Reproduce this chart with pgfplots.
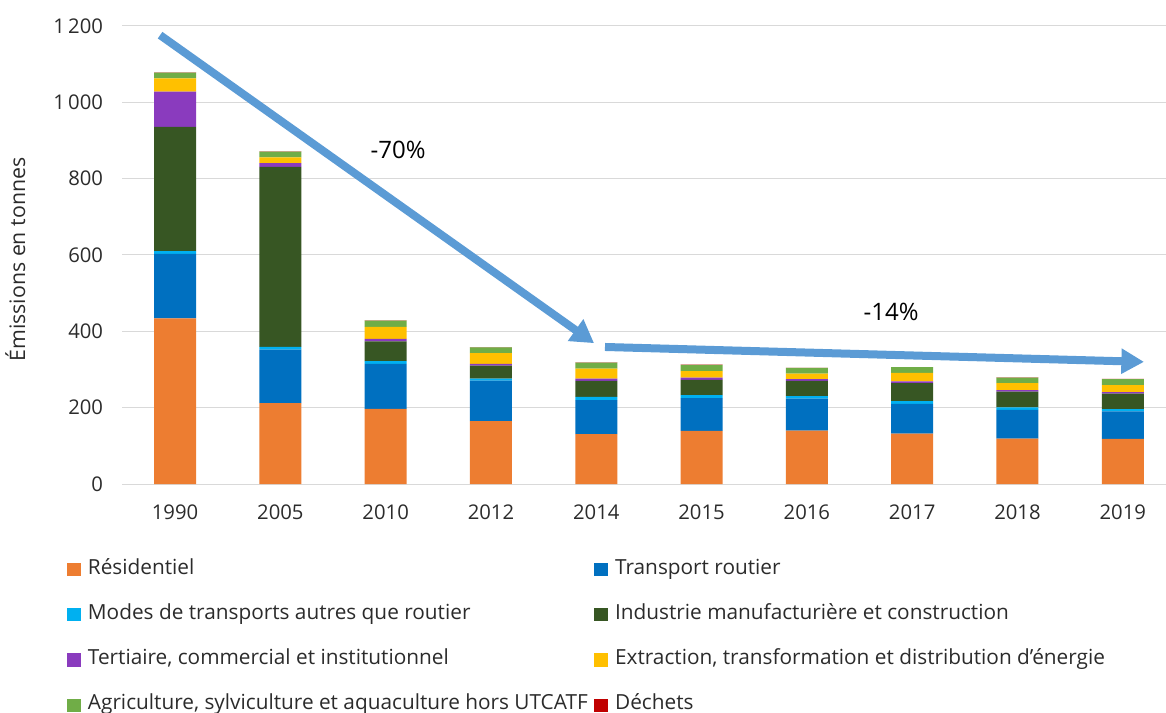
\documentclass[border=0pt]{standalone}
\usepackage{fontspec}
\setmainfont{Open Sans}
\usepackage{pgfplots}
\pgfplotsset{compat=1.18}
\usetikzlibrary{arrows.meta}
\definecolor{cRes}{HTML}{ED7D31}
\definecolor{cTra}{HTML}{0070C0}
\definecolor{cMod}{HTML}{00B0F0}
\definecolor{cInd}{HTML}{375623}
\definecolor{cTer}{HTML}{8A3BBE}
\definecolor{cExt}{HTML}{FFC000}
\definecolor{cAgr}{HTML}{70AD47}
\definecolor{cDec}{HTML}{C00000}
\definecolor{cArr}{HTML}{5B9BD5}
\definecolor{gridgray}{HTML}{D9D9D9}
\definecolor{txt}{HTML}{2B2B2B}
\begin{document}
\begin{tikzpicture}
\begin{axis}[
  at={(0,0)}, anchor=south west,
  scale only axis, width=789.75pt, height=343.5pt,
  ybar stacked, bar width=31.5pt,
  xmin=-0.5, xmax=9.5, ymin=0, ymax=1200,
  xtick={0,...,9},
  xticklabels={1990,2005,2010,2012,2014,2015,2016,2017,2018,2019},
  ytick={0,200,400,600,800,1000,1200},
  yticklabels={0,200,400,600,800,1\,000,1\,200},
  ymajorgrids, grid style={draw=gridgray, line width=0.75pt},
  axis line style={draw=none},
  major tick length=0pt,
  tick label style={font=\fontsize{15.2}{18}\selectfont, text=txt},
  yticklabel style={xshift=-11pt},
  xticklabel style={yshift=-12pt},
  ylabel={Émissions en tonnes},
  ylabel style={at={(axis description cs:-0.1016,0.49)}, anchor=center, font=\fontsize{16}{18}\selectfont, text=txt},
  clip=false,
  legend columns=2,
  legend cell align=left,
  legend image code/.code={\fill[#1] (0pt,-5pt) rectangle (10pt,5pt);},
  legend style={at={(axis description cs:-0.0526,-0.1645)}, anchor=north west,
    draw=none, fill=none, inner sep=0pt,
    font=\fontsize{15.6}{18}\selectfont, text=txt,
    nodes={inner sep=0pt, text height=11pt, text depth=4pt},
    /tikz/every odd column/.append style={column sep=5.5pt},
    /tikz/every even column/.append style={column sep=5pt},
    row sep=18.9pt},
]
\addplot[fill=cRes, draw=none] coordinates {(0,434) (1,212) (2,197) (3,165) (4,131) (5,139) (6,140) (7,132) (8,119) (9,118)};
\addplot[fill=cTra, draw=none] coordinates {(0,169) (1,140) (2,118) (3,106) (4,89) (5,86) (6,84) (7,78) (8,75) (9,72)};
\addplot[fill=cMod, draw=none] coordinates {(0,7) (1,7) (2,7) (3,5) (4,8) (5,8) (6,6) (7,7) (8,7) (9,6)};
\addplot[fill=cInd, draw=none] coordinates {(0,326) (1,472) (2,52) (3,34) (4,42) (5,40) (6,40) (7,47) (8,41) (9,41)};
\addplot[fill=cTer, draw=none] coordinates {(0,92) (1,10) (2,6) (3,5) (4,6) (5,6) (6,5) (7,5) (8,4) (9,4)};
\addplot[fill=cExt, draw=none] coordinates {(0,35) (1,15) (2,32) (3,28) (4,26) (5,17) (6,14) (7,22) (8,18) (9,18)};
\addplot[fill=cAgr, draw=none] coordinates {(0,15) (1,15) (2,16) (3,15) (4,16) (5,16) (6,15) (7,15) (8,15) (9,16)};
\addplot[fill=cDec, draw=none] coordinates {(0,0.5) (1,0.5) (2,0.5) (3,0.5) (4,0.5) (5,0.5) (6,0.5) (7,0.5) (8,0.5) (9,0.5)};
\legend{Résidentiel, Transport routier, Modes de transports autres que routier, Industrie manufacturière et construction, {Tertiaire, commercial et institutionnel}, {Extraction, transformation et distribution d'énergie}, {Agriculture, sylviculture et aquaculture hors UTCATF}, Déchets}
\draw[cArr, line width=6pt, -{Triangle[length=17pt, width=19pt]}] (axis cs:-0.142,1176) -- (axis cs:3.979,369);
\draw[cArr, line width=6pt, -{Triangle[length=17pt, width=18pt]}] (axis cs:4.083,359) -- (axis cs:9.202,320);
\node[font=\fontsize{18}{21}\selectfont, text=black] at (axis cs:2.118,875) {-70\%};
\node[font=\fontsize{18}{21}\selectfont, text=black] at (axis cs:6.80,451) {-14\%};
\end{axis}
\pgfresetboundingbox
\path[use as bounding box] (-91.8pt,-171.75pt) rectangle (782.7pt,363pt);
\end{tikzpicture}
\end{document}
